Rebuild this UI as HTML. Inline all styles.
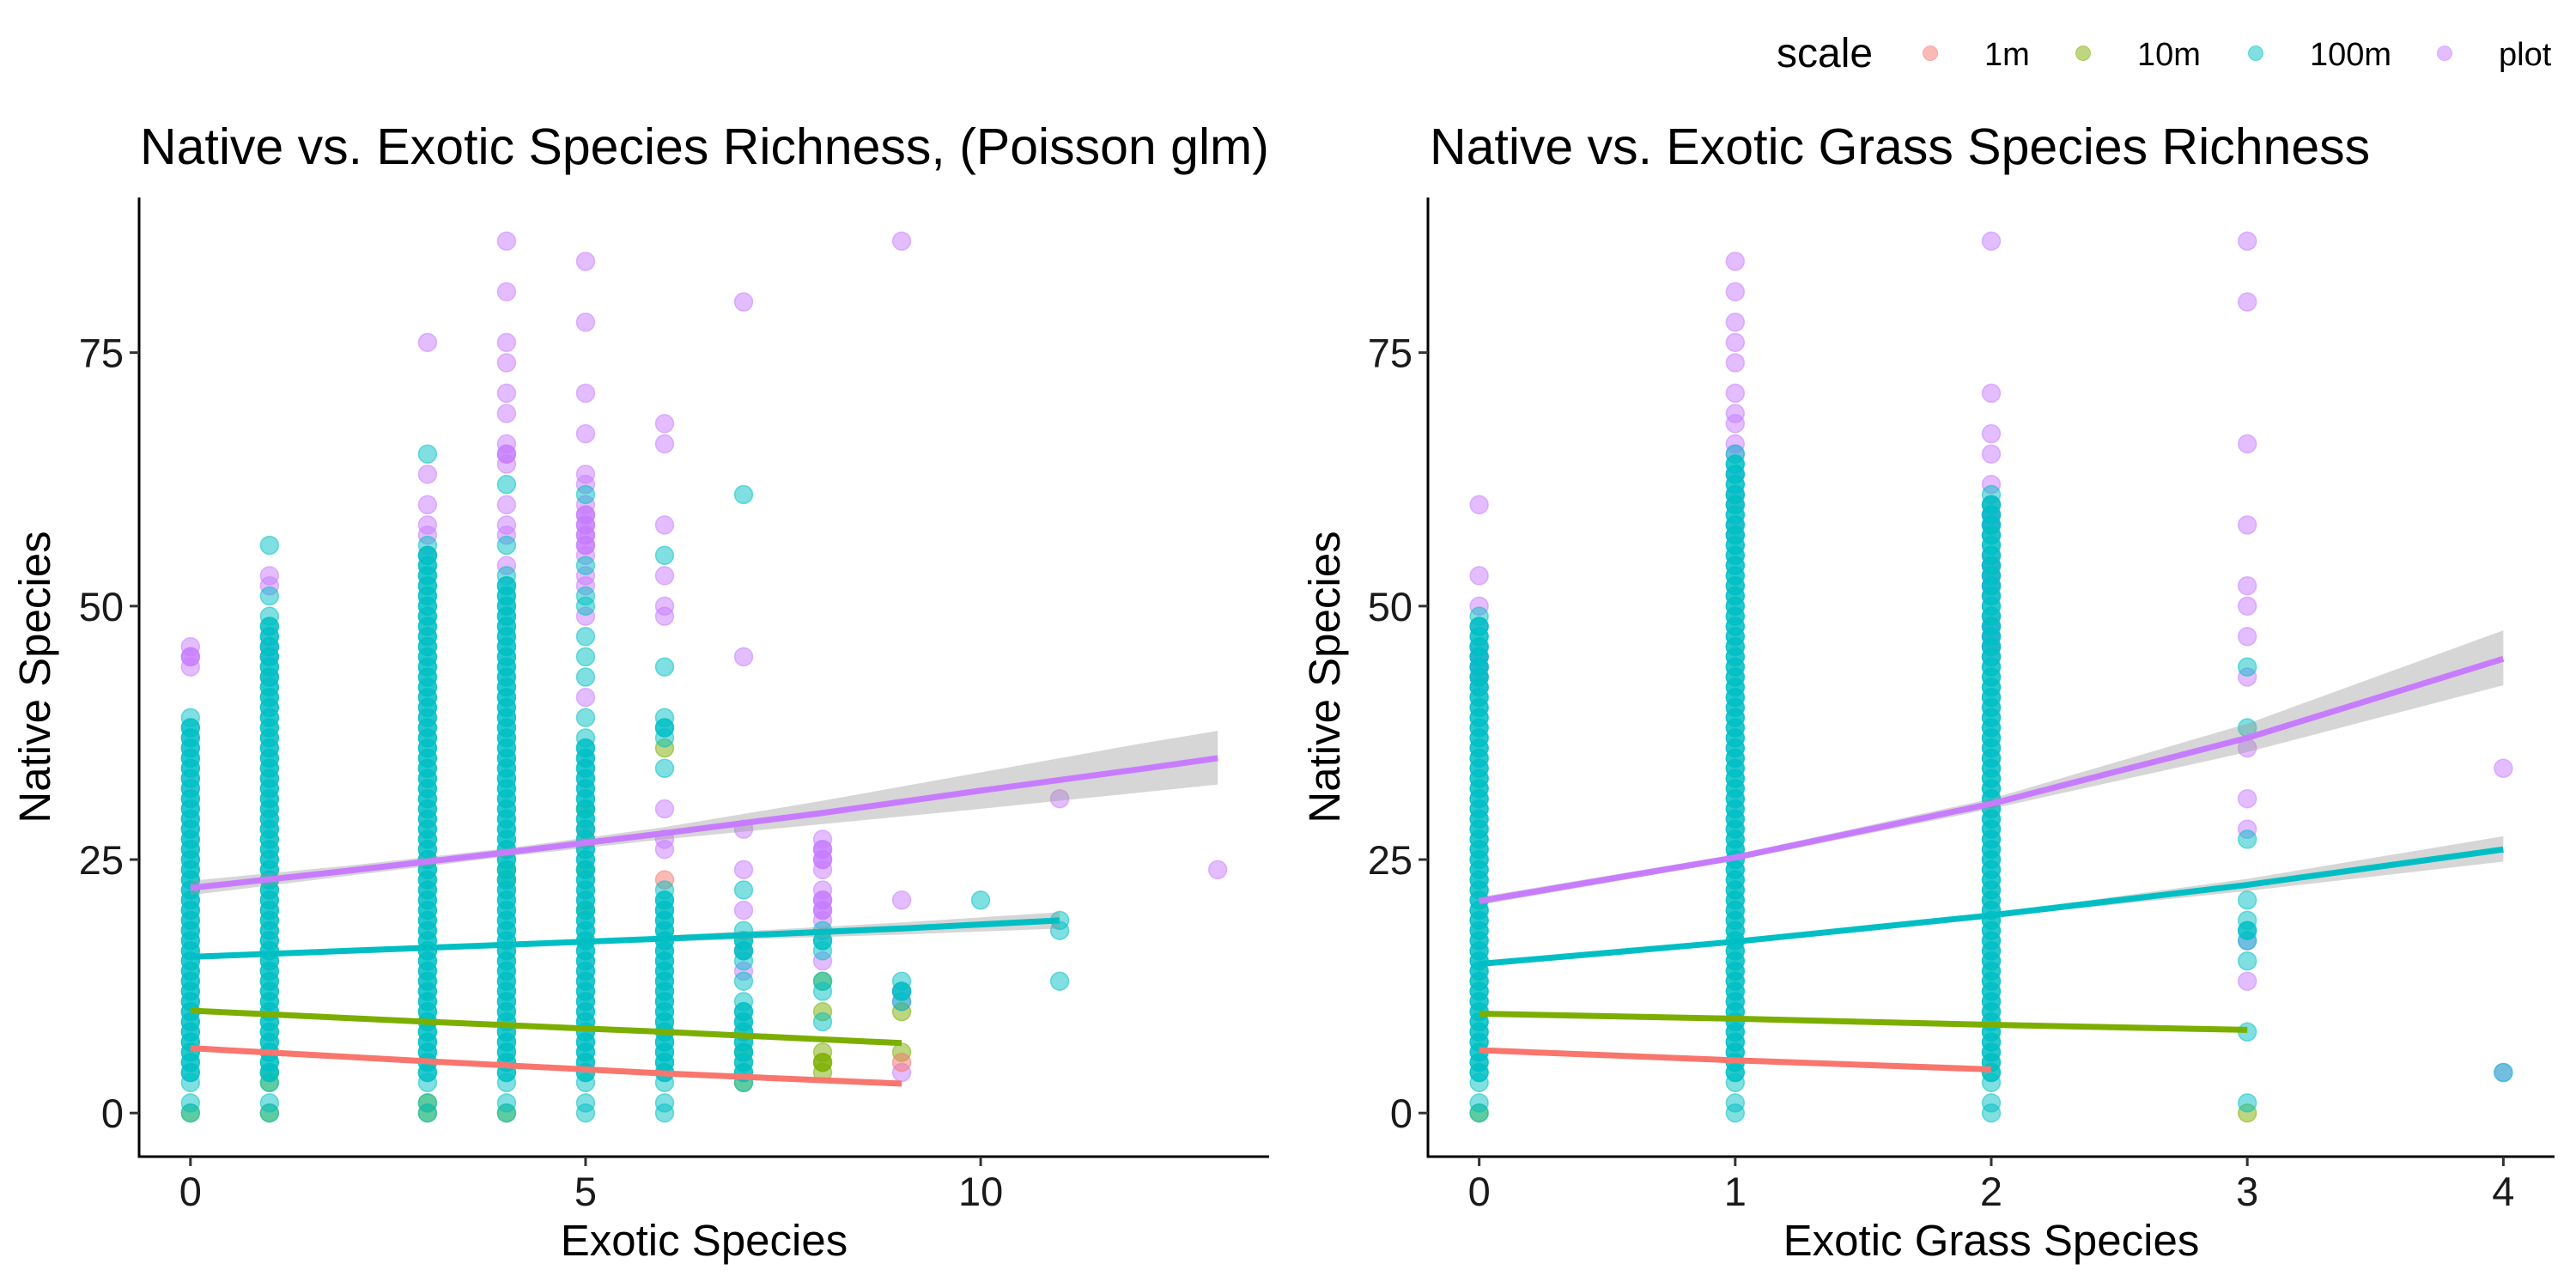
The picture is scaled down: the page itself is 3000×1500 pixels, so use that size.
<!DOCTYPE html>
<html><head><meta charset="utf-8">
<style>
html,body{margin:0;padding:0;background:#fff;}
svg{display:block;font-family:"Liberation Sans",Arial,sans-serif;}
</style></head>
<body>
<svg id="chart" width="3000" height="1500" viewBox="0 0 3000 1500" xmlns="http://www.w3.org/2000/svg">
  <g>
    <text x="2069" y="78" font-size="48" fill="#000">scale</text>
    <circle cx="2248" cy="62" r="8.5" fill="#F8766D" fill-opacity="0.5" stroke="#F8766D" stroke-opacity="0.5"/>
    <text x="2311" y="76" font-size="38">1m</text>
    <circle cx="2426" cy="62" r="8.5" fill="#7CAE00" fill-opacity="0.5" stroke="#7CAE00" stroke-opacity="0.5"/>
    <text x="2489" y="76" font-size="38">10m</text>
    <circle cx="2627" cy="62" r="8.5" fill="#00BFC4" fill-opacity="0.5" stroke="#00BFC4" stroke-opacity="0.5"/>
    <text x="2690" y="76" font-size="38">100m</text>
    <circle cx="2847" cy="62" r="8.5" fill="#C77CFF" fill-opacity="0.5" stroke="#C77CFF" stroke-opacity="0.5"/>
    <text x="2910" y="76" font-size="38">plot</text>
  </g>
  <g id="left"></g>
  <g id="right"></g>
</svg>
<script>
// ---------- Data ----------
const colors = {"1m":"#F8766D","10m":"#7CAE00","100m":"#00BFC4","plot":"#C77CFF"};
const yTicks = [0,25,50,75];
const leftXTicks = [0,5,10];
const rightXTicks = [0,1,2,3,4];

function seq(a,b){const r=[];for(let i=a;i<=b;i++)r.push(i);return r;}

// Left panel points
const L_plot_x = [0,1,3,4,5,6,7,8,9,11,13];
const L_plot_y = [[44,45,46],[43,45,46,52,53],[55,57,58,60,63,76],[54,57,58,60,64,65,66,69,71,74,76,81,86],[41,49,52,53,55,56,57,58,59,60,62,63,67,71,78,84],[26,27,30,49,50,53,58,66,68],[14,16,20,24,28,45,80],[15,19,20,21,22,24,25,26,27],[4,11,12,21,86],[31],[24]];
const L_10m_x = [0,1,3,4,5,6,7,8,9];
const L_10m_y = [[0],[0,3,4],[0,1],[0,23,24],[20,24,30],[36],[3,6],[4,5,6,10,13],[6,10]];
const L_1m_x = [5,6,9];
const L_1m_y = [[28],[23],[5]];
const L_100m_x = [0,1,3,4,5,6,7,8,9,10,11];
const L_100m_y = [
  [0,1].concat(seq(3,39)),
  [0,1].concat(seq(3,49),[51,56]),
  [0,1].concat(seq(3,56),[65]),
  [0,1].concat(seq(3,53),[56,62]),
  [0,1].concat(seq(3,37),[39,43,45,47,50,51,54,61]),
  [0,1].concat(seq(3,22),[34,37,38,39,44,55]),
  [3,4,5,6,7,8,9,10,11,13,15,16,17,18,22,61],
  [9,12,13,16,17,18],
  [11,12,13],
  [21],
  [13,18,19]];
const L_fit_plot_x = [0,2,4,6,8,10,12,13];
const L_fit_plot_y = [22.2,23.9,25.7,27.6,29.6,31.8,33.9,35.0];
const L_fit_plot_lo = [21.5,23.4,25.3,27.0,28.5,30.0,31.6,32.4];
const L_fit_plot_hi = [22.9,24.4,26.1,28.2,30.8,33.6,36.4,37.7];
const L_fit_100m_x = [0,3,6,9,11];
const L_fit_100m_y = [15.4,16.3,17.2,18.2,19.0];
const L_fit_100m_lo = [15.2,16.1,16.9,17.6,18.2];
const L_fit_100m_hi = [15.6,16.5,17.5,18.8,19.8];
const L_fit_10m_x = [0,3,6,9];
const L_fit_10m_y = [10.1,9.0,8.0,6.9];
const L_fit_1m_x = [0,3,6,9];
const L_fit_1m_y = [6.4,5.1,3.9,2.9];

// Right panel points
const R_plot_x = [0,1,2,3,4];
const R_plot_y = [[42,43,44,45,46,48,50,53,60],[57,58,60,61,63,65,66,68,69,71,74,76,78,81,84],[45,46,47,48,49,51,52,53,54,55,57,58,59,60,62,65,67,71,86],[13,17,28,31,36,43,47,50,52,58,66,80,86],[4,34]];
const R_10m_x = [0,3];
const R_10m_y = [[0],[0]];
const R_100m_x = [0,1,2,3,4];
const R_100m_y = [
  [0,1].concat(seq(3,49)),
  [0,1].concat(seq(3,65)),
  [0,1].concat(seq(3,61)),
  [1,8,15,17,18,19,21,27,38,44],
  [4]];
const R_fit_plot_x = [0,1,2,3,4];
const R_fit_plot_y = [20.9,25.2,30.5,37.0,44.8];
const R_fit_plot_lo = [20.5,24.9,30.0,35.6,42.2];
const R_fit_plot_hi = [21.3,25.5,31.0,38.4,47.6];
const R_fit_100m_x = [0,1,2,3,4];
const R_fit_100m_y = [14.7,16.9,19.5,22.5,26.0];
const R_fit_100m_lo = [14.5,16.8,19.3,21.9,24.8];
const R_fit_100m_hi = [14.9,17.0,19.7,23.1,27.3];
const R_fit_10m_x = [0,1,2,3];
const R_fit_10m_y = [9.8,9.3,8.7,8.2];
const R_fit_1m_x = [0,1,2];
const R_fit_1m_y = [6.2,5.2,4.3];

// ---------- Rendering ----------
const NS = "http://www.w3.org/2000/svg";
function mk(parent, tag, attrs){const e=document.createElementNS(NS,tag);for(const k in attrs)e.setAttribute(k,attrs[k]);parent.appendChild(e);return e;}

const yTop = 230, yBot = 1347, yMin = -4.3, yMax = 90.3;
function yScale(v){return yBot - (v - yMin)/(yMax - yMin)*(yBot - yTop);}

function drawPanel(g, cfg){
  const xs = v => cfg.x0 + (v - cfg.xMin)/(cfg.xMax - cfg.xMin)*(cfg.x1 - cfg.x0);
  cfg.points.forEach(s=>{
    const pg = mk(g,'g',{});
    
    
    s.cols.forEach((cx,i)=>{
      const col = s.vals[i];
      col.forEach(v=>{
        // dense stacks (overplotted duplicates in the source) render near-solid
        const dense = col.includes(v-1) && col.includes(v+1);
        const op = dense ? 0.85 : 0.5;
        const c = mk(pg,'circle',{cx:xs(cx),cy:yScale(v),r:10.5,fill:colors[s.name],'fill-opacity':op,stroke:colors[s.name],'stroke-opacity':op,'stroke-width':1.5});
        
        
      });
    });
  });
  cfg.ribbons.forEach(r=>{
    let d='';
    r.x.forEach((xv,i)=>{d+=(i?'L':'M')+xs(xv)+','+yScale(r.hi[i]);});
    for(let i=r.x.length-1;i>=0;i--) d+='L'+xs(r.x[i])+','+yScale(r.lo[i]);
    const p = mk(g,'path',{d:d+'Z',fill:'#999','fill-opacity':0.4});
    
    
  });
  cfg.lines.forEach(l=>{
    const pts = l.x.map((xv,i)=>xs(xv)+','+yScale(l.y[i])).join(' ');
    const p = mk(g,'polyline',{points:pts,fill:'none',stroke:colors[l.name],'stroke-width':7,'stroke-linejoin':'round'});
    
    
  });
  const ya = mk(g,'line',{x1:cfg.x0,y1:yTop,x2:cfg.x0,y2:yBot+1.5,stroke:'#000','stroke-width':3});
  
  
  const xa = mk(g,'line',{x1:cfg.x0-1.5,y1:yBot,x2:cfg.x1,y2:yBot,stroke:'#000','stroke-width':3});
  
  
  yTicks.forEach(t=>{
    const y=yScale(t);
    const tk = mk(g,'line',{x1:cfg.x0-11,y1:y,x2:cfg.x0,y2:y,stroke:'#333','stroke-width':3});
    
    
    const tx = mk(g,'text',{x:cfg.x0-18,y:y+17,'text-anchor':'end','font-size':47,fill:'#1a1a1a'});
    tx.textContent = t;
    
    
  });
  cfg.xTicks.forEach(t=>{
    const x=xs(t);
    const tk = mk(g,'line',{x1:x,y1:yBot,x2:x,y2:yBot+11,stroke:'#333','stroke-width':3});
    
    
    const tx = mk(g,'text',{x:x,y:1404,'text-anchor':'middle','font-size':47,fill:'#1a1a1a'});
    tx.textContent = t;
    
    
  });
  const xt = mk(g,'text',{x:(cfg.x0+cfg.x1)/2,y:1462,'text-anchor':'middle','font-size':51});
  xt.textContent = cfg.xTitle;
  
  
  const ytl = mk(g,'text',{x:0,y:0,'text-anchor':'middle','font-size':51,transform:'translate('+(cfg.yTitleX)+','+((yTop+yBot)/2)+') rotate(-90)'});
  ytl.textContent = 'Native Species';
  
  
  const tt = mk(g,'text',{x:cfg.titleX,y:191,'font-size':59});
  tt.textContent = cfg.title;
  
  
}

drawPanel(document.getElementById('left'), {
  x0:162, x1:1478, xMin:-0.65, xMax:13.65, xTicks:leftXTicks,
  xTitle:'Exotic Species', yTitleX:58, titleX:163,
  title:'Native vs. Exotic Species Richness, (Poisson glm)',
  points:[
    {name:'plot',cols:L_plot_x,vals:L_plot_y},
    {name:'10m',cols:L_10m_x,vals:L_10m_y},
    {name:'1m',cols:L_1m_x,vals:L_1m_y},
    {name:'100m',cols:L_100m_x,vals:L_100m_y}],
  ribbons:[
    {name:'plot',x:L_fit_plot_x,lo:L_fit_plot_lo,hi:L_fit_plot_hi},
    {name:'100m',x:L_fit_100m_x,lo:L_fit_100m_lo,hi:L_fit_100m_hi}],
  lines:[
    {name:'plot',x:L_fit_plot_x,y:L_fit_plot_y},
    {name:'100m',x:L_fit_100m_x,y:L_fit_100m_y},
    {name:'10m',x:L_fit_10m_x,y:L_fit_10m_y},
    {name:'1m',x:L_fit_1m_x,y:L_fit_1m_y}]
});
drawPanel(document.getElementById('right'), {
  x0:1663, x1:2975, xMin:-0.2, xMax:4.2, xTicks:rightXTicks,
  xTitle:'Exotic Grass Species', yTitleX:1560, titleX:1665,
  title:'Native vs. Exotic Grass Species Richness',
  points:[
    {name:'plot',cols:R_plot_x,vals:R_plot_y},
    {name:'10m',cols:R_10m_x,vals:R_10m_y},
    {name:'100m',cols:R_100m_x,vals:R_100m_y}],
  ribbons:[
    {name:'plot',x:R_fit_plot_x,lo:R_fit_plot_lo,hi:R_fit_plot_hi},
    {name:'100m',x:R_fit_100m_x,lo:R_fit_100m_lo,hi:R_fit_100m_hi}],
  lines:[
    {name:'plot',x:R_fit_plot_x,y:R_fit_plot_y},
    {name:'100m',x:R_fit_100m_x,y:R_fit_100m_y},
    {name:'10m',x:R_fit_10m_x,y:R_fit_10m_y},
    {name:'1m',x:R_fit_1m_x,y:R_fit_1m_y}]
});
</script>
</body></html>
